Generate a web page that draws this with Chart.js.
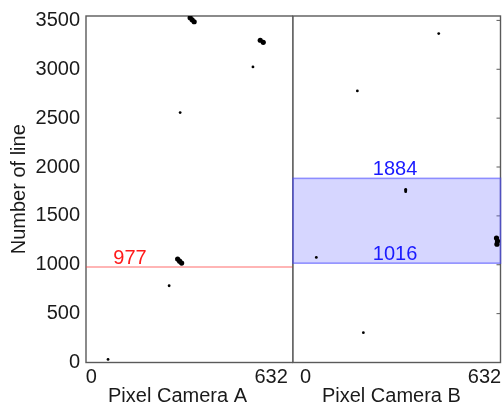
<!DOCTYPE html>
<html>
<head>
<meta charset="utf-8">
<title>Number of line per pixel – Camera A / Camera B</title>
<script src="https://cdn.jsdelivr.net/npm/chart.js@4/dist/chart.umd.min.js"></script>
<style>
  html, body { margin: 0; padding: 0; background: #fff; overflow: hidden; }
  #wrap { position: relative; width: 502px; height: 406px; }
  #camA { position: absolute; left: 0; top: 0; }
  #camB { position: absolute; left: 292px; top: 0; }
</style>
</head>
<body>
<div id="wrap">
  <canvas id="camA" width="293" height="406"></canvas>
  <canvas id="camB" width="214" height="406"></canvas>
</div>
<script>
// ---- axis ticks ----
const pixelTicks = [0, 632];
const lineTicks = [0, 500, 1000, 1500, 2000, 2500, 3000, 3500];
const lineRange = [0, 3545];
const camARangeX = [-18.7, 709.1];
const camBRangeX = [-44.6, 688.6];

// ---- camera A detections (pixel, line) ----
const camASpotsX = [568.3, 312.3, 273.6, 58.8];
const camASpotsY = [3024, 2557, 785, 31];
const camABlobsX = [347.5, 354.5, 361.6, 594, 604.5, 303.5, 310.5, 317.6];
const camABlobsY = [3527, 3506, 3486, 3297, 3276, 1058, 1037, 1017];

// ---- camera B detections (pixel, line) ----
const camBSpotsX = [470.3, 182.8, 353.6, 353.6, 353.6, 37.8, 204];
const camBSpotsY = [3365, 2778, 1772, 1760, 1748, 1075, 305];
const camBBlobsX = [674.4, 677.9, 676.0];
const camBBlobsY = [1273, 1242, 1211];

// ---- markers ----
const camAThreshold = 977;
const camBBand = [1016, 1884];

const FONT = "'Liberation Sans', Arial, Helvetica, sans-serif";
const TEXT = '#1a1a1a';

const zip = (xs, ys) => xs.map((x, i) => ({ x, y: ys[i] }));

// Frame, band, inward ticks, value labels and the x-axis caption
const panelPlugin = {
  id: 'panel',
  beforeDatasetsDraw(chart, args, o) {
    const { ctx, chartArea: a, scales } = chart;
    const y = scales.y;
    ctx.save();
    ctx.strokeStyle = '#5a5a5a';
    ctx.lineWidth = 1.4;
    ctx.strokeRect(a.left, a.top, a.right - a.left, a.bottom - a.top);
    if (o.rightTicks) {
      ctx.beginPath();
      lineTicks.forEach(v => {
        const py = y.getPixelForValue(v);
        ctx.moveTo(a.right - 4, py);
        ctx.lineTo(a.right, py);
      });
      ctx.lineWidth = 1;
      ctx.stroke();
    }
    if (o.band) {
      const yTop = y.getPixelForValue(o.band[1]);
      const yBot = y.getPixelForValue(o.band[0]);
      ctx.fillStyle = 'rgba(120,120,255,0.3)';
      ctx.fillRect(a.left, yTop, a.right - a.left, yBot - yTop);
      ctx.strokeStyle = 'rgba(70,70,255,0.55)';
      ctx.lineWidth = 1.6;
      ctx.strokeRect(a.left, yTop, a.right - a.left, yBot - yTop);
    }
    ctx.restore();
  },
  afterDatasetsDraw(chart, args, o) {
    const { ctx, scales } = chart;
    ctx.save();
    ctx.font = '20px ' + FONT;
    ctx.textAlign = 'center';
    ctx.textBaseline = 'alphabetic';
    (o.labels || []).forEach(l => {
      ctx.fillStyle = l.color;
      ctx.fillText(String(l.value), scales.x.getPixelForValue(l.at), scales.y.getPixelForValue(l.value) - 3.5);
    });
    ctx.fillStyle = TEXT;
    ctx.fillText(o.caption, scales.x.getPixelForValue(303), 401.5);
    ctx.restore();
  }
};

function xScale(range) {
  return {
    type: 'linear',
    min: range[0],
    max: range[1],
    afterBuildTicks: s => { s.ticks = pixelTicks.map(v => ({ value: v })); },
    afterFit: s => { s.height = 406 - 16 - 346.5; s.paddingLeft = 0; s.paddingRight = 0; },
    grid: { display: false, drawTicks: false },
    border: { display: false },
    ticks: { padding: 3, autoSkip: false, maxRotation: 0, color: TEXT, font: { size: 20, family: FONT },
             callback: v => String(v) }
  };
}

function yScale(show) {
  return {
    type: 'linear',
    display: show,
    min: lineRange[0],
    max: lineRange[1],
    afterBuildTicks: s => { s.ticks = lineTicks.map(v => ({ value: v })); },
    afterFit: s => { if (show) s.width = 86; s.paddingTop = 0; s.paddingBottom = 0; },
    grid: { display: false, drawTicks: false },
    border: { display: false },
    ticks: { padding: 6, color: TEXT, font: { size: 20, family: FONT }, callback: v => String(v) },
    title: { display: show, text: 'Number of line', color: TEXT, font: { size: 20, family: FONT }, padding: { top: 7, bottom: 0 } }
  };
}

function spots(xs, ys, r) {
  return { type: 'scatter', data: zip(xs, ys), pointRadius: r, pointHoverRadius: r,
           pointBackgroundColor: '#000', pointBorderWidth: 0, showLine: false };
}

const common = {
  responsive: false,
  animation: false,
  events: [],
  plugins: { legend: { display: false }, tooltip: { enabled: false } }
};

new Chart(document.getElementById('camA'), {
  type: 'scatter',
  data: {
    datasets: [
      { type: 'line', data: [{ x: camARangeX[0], y: camAThreshold }, { x: camARangeX[1], y: camAThreshold }],
        borderColor: 'rgba(255,60,60,0.75)', borderWidth: 1.2, pointRadius: 0, fill: false },
      spots(camASpotsX, camASpotsY, 1.4),
      spots(camABlobsX, camABlobsY, 2.6)
    ]
  },
  options: Object.assign({}, common, {
    layout: { autoPadding: false, padding: { top: 16, left: 0, right: 0, bottom: 0 } },
    scales: { x: xScale(camARangeX), y: yScale(true) },
    plugins: Object.assign({}, common.plugins, {
      panel: { caption: 'Pixel Camera A', labels: [{ value: camAThreshold, at: 136, color: '#ff1a1a' }] }
    })
  }),
  plugins: [panelPlugin]
});

new Chart(document.getElementById('camB'), {
  type: 'scatter',
  data: {
    datasets: [
      spots(camBSpotsX, camBSpotsY, 1.4),
      spots(camBBlobsX, camBBlobsY, 2.6)
    ]
  },
  options: Object.assign({}, common, {
    layout: { autoPadding: false, padding: { top: 16, left: 1, right: 5.5, bottom: 0 } },
    scales: { x: xScale(camBRangeX), y: yScale(false) },
    plugins: Object.assign({}, common.plugins, {
      panel: { caption: 'Pixel Camera B', band: camBBand, rightTicks: true,
               labels: [{ value: camBBand[1], at: 316, color: '#1a1aff' }, { value: camBBand[0], at: 316, color: '#1a1aff' }] }
    })
  }),
  plugins: [panelPlugin]
});
</script>
</body>
</html>
